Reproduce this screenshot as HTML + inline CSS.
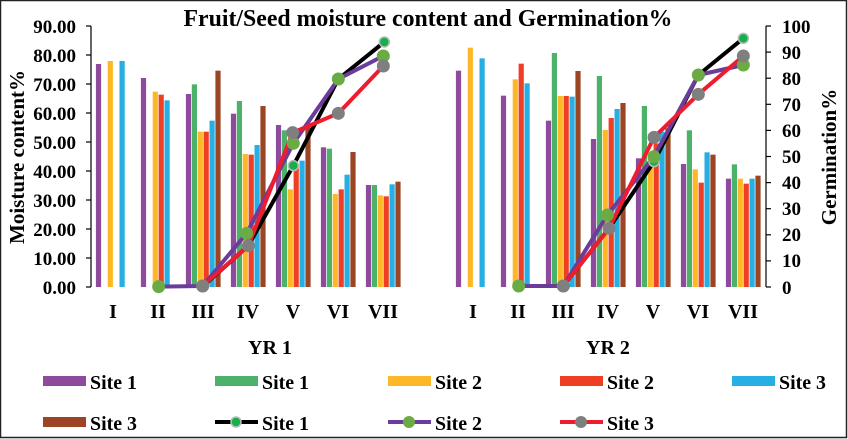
<!DOCTYPE html>
<html><head><meta charset="utf-8"><style>
html,body{margin:0;padding:0;background:#fff}
svg{display:block}
text{font-family:"Liberation Serif",serif;font-weight:bold;fill:#000}
</style></head><body>
<svg id="s" width="848" height="439" viewBox="0 0 848 439" xmlns="http://www.w3.org/2000/svg">
<rect x="0.5" y="0.5" width="846" height="437" fill="#fff" stroke="#222" stroke-width="1.5"/>
<text x="428" y="26" font-size="24" text-anchor="middle" textLength="489" lengthAdjust="spacingAndGlyphs">Fruit/Seed moisture content and Germination%</text>
<g id="bars"></g>
<g id="axes" stroke="#000" stroke-width="1.2">
<line x1="91" y1="26" x2="91" y2="287"/>
<line x1="766" y1="26" x2="766" y2="287"/>
</g>
<g font-size="19" text-anchor="end">
<text x="76" y="33">90.00</text><text x="76" y="62">80.00</text><text x="76" y="91">70.00</text>
<text x="76" y="120">60.00</text><text x="76" y="149">50.00</text><text x="76" y="178">40.00</text>
<text x="76" y="207">30.00</text><text x="76" y="236">20.00</text><text x="76" y="265">10.00</text>
<text x="76" y="294">0.00</text>
</g>
<g font-size="19" text-anchor="start">
<text x="782" y="33">100</text><text x="782" y="59">90</text><text x="782" y="85">80</text>
<text x="782" y="111">70</text><text x="782" y="137">60</text><text x="782" y="163">50</text>
<text x="782" y="189">40</text><text x="782" y="215">30</text><text x="782" y="241">20</text>
<text x="782" y="267">10</text><text x="782" y="294">0</text>
</g>
<text transform="translate(24,157) rotate(-90)" font-size="21" text-anchor="middle">Moisture content%</text>
<text transform="translate(836,157) rotate(-90)" font-size="21" text-anchor="middle">Germination%</text>
<g font-size="20" text-anchor="middle">
<text x="113" y="318">I</text><text x="158" y="318">II</text><text x="203" y="318">III</text><text x="248" y="318">IV</text><text x="293" y="318">V</text><text x="338" y="318">VI</text><text x="383" y="318">VII</text>
<text x="473" y="318">I</text><text x="518" y="318">II</text><text x="563" y="318">III</text><text x="608" y="318">IV</text><text x="653" y="318">V</text><text x="698" y="318">VI</text><text x="743" y="318">VII</text>
<text x="270" y="354">YR 1</text><text x="608" y="354">YR 2</text>
</g>
<g id="legend" font-size="20">
<rect x="43" y="376" width="43" height="10" fill="#8e4a9c"/><text x="90" y="389" textLength="47" lengthAdjust="spacingAndGlyphs">Site 1</text>
<rect x="215" y="376" width="43" height="10" fill="#4cb26a"/><text x="262" y="389" textLength="47" lengthAdjust="spacingAndGlyphs">Site 1</text>
<rect x="388" y="376" width="43" height="10" fill="#fdb827"/><text x="435" y="389" textLength="47" lengthAdjust="spacingAndGlyphs">Site 2</text>
<rect x="560" y="376" width="43" height="10" fill="#ee3e23"/><text x="607" y="389" textLength="47" lengthAdjust="spacingAndGlyphs">Site 2</text>
<rect x="732" y="376" width="43" height="10" fill="#27aee3"/><text x="779" y="389" textLength="47" lengthAdjust="spacingAndGlyphs">Site 3</text>
<rect x="43" y="417" width="43" height="10" fill="#9b4525"/><text x="90" y="430" textLength="47" lengthAdjust="spacingAndGlyphs">Site 3</text>
<line x1="215" y1="422" x2="258" y2="422" stroke="#000" stroke-width="4"/><circle cx="236" cy="422" r="5" fill="#14b04c" stroke="#bbb" stroke-width="1.5"/><text x="262" y="430" textLength="47" lengthAdjust="spacingAndGlyphs">Site 1</text>
<line x1="388" y1="422" x2="431" y2="422" stroke="#6b3c99" stroke-width="4"/><circle cx="409" cy="422" r="6" fill="#6bab45"/><text x="435" y="430" textLength="47" lengthAdjust="spacingAndGlyphs">Site 2</text>
<line x1="560" y1="422" x2="603" y2="422" stroke="#ee1c2e" stroke-width="4"/><circle cx="581" cy="422" r="6" fill="#7f7f7f"/><text x="607" y="430" textLength="47" lengthAdjust="spacingAndGlyphs">Site 3</text>
</g>
<g id="lines"></g>
</svg>
<script>
var ns="http://www.w3.org/2000/svg";
function el(t,a,p){var e=document.createElementNS(ns,t);for(var k in a)e.setAttribute(k,a[k]);document.getElementById(p).appendChild(e);return e;}
for(var i=0;i<=9;i++){var y=287-i*29;el("line",{x1:86,y1:y,x2:91,y2:y},"axes");}
for(var i=0;i<=10;i++){var y=287-i*26.1;el("line",{x1:766,y1:y,x2:771,y2:y},"axes");}
var cols=["#8e4a9c","#4cb26a","#fdb827","#ee3e23","#27aee3","#9b4525"];
var y1=[[192,null,183,null,183,null],[234,null,275,284,301,null],[282,253,395,395,362,212],[341,303,462,464,435,318],[375,391,568,502,482,380],[442,446,582,568,524,456],[555,555,586,589,553,545]];
var y2=[[212,null,143,null,175,null],[287,null,238,191,250,null],[362,159,288,288,290,213],[417,228,390,354,327,309],[475,318,470,430,395,385],[492,391,508,548,457,464],[536,493,536,551,536,527]];
function bars(d,x0){for(var g=0;g<7;g++)for(var k=0;k<6;k++){var v=d[g][k];if(v==null)continue;var top=v/3;var cx=x0+g*45+k*5.9;el("rect",{x:cx-2.6,y:top,width:5.2,height:287-top,fill:cols[k]},"bars");}}
bars(y1,98.5);bars(y2,458.5);
function line(pts,stroke){var s=pts.map(function(p){return p[0]+","+p[1]}).join(" ");el("polyline",{points:s,fill:"none",stroke:stroke,"stroke-width":4,"stroke-linejoin":"round"},"lines");}
function marks(pts,mfill,r,ring){pts.forEach(function(p){var a={cx:p[0],cy:p[1],r:r,fill:mfill};if(ring){a.stroke="#bbb";a["stroke-width"]=1.5;}el("circle",a,"lines");});}
function cv(a,xo){return a.map(function(p){return [p[0]/3+xo,p[1]/3];});}
var bk1=cv([[608,860],[745,737],[880,497],[1015,237],[1153,126]],0);
var pu1=cv([[476,860],[608,858],[740,700],[880,430],[1015,237],[1150,168]],0);
var rd1=cv([[608,858],[745,737],[878,398],[1015,340],[1150,198]],0);
var bk2=cv([[418,858],[555,685],[690,485],[823,225],[958,115]],424);
var pu2=cv([[284,858],[418,858],[550,645],[690,470],[823,225],[958,195]],424);
var rd2=cv([[418,858],[555,685],[690,412],[823,283],[958,168]],424);
[[bk1,pu1,rd1],[bk2,pu2,rd2]].forEach(function(s){
 line(s[0],"#000");
 line(s[1],"#6b3c99");
 line(s[2],"#ee1c2e");
 marks(s[0],"#14b04c",5,true);
 marks(s[1],"#6bab45",6.5,false);
 marks(s[2],"#7f7f7f",6.5,false);
});
</script>
</body></html>
